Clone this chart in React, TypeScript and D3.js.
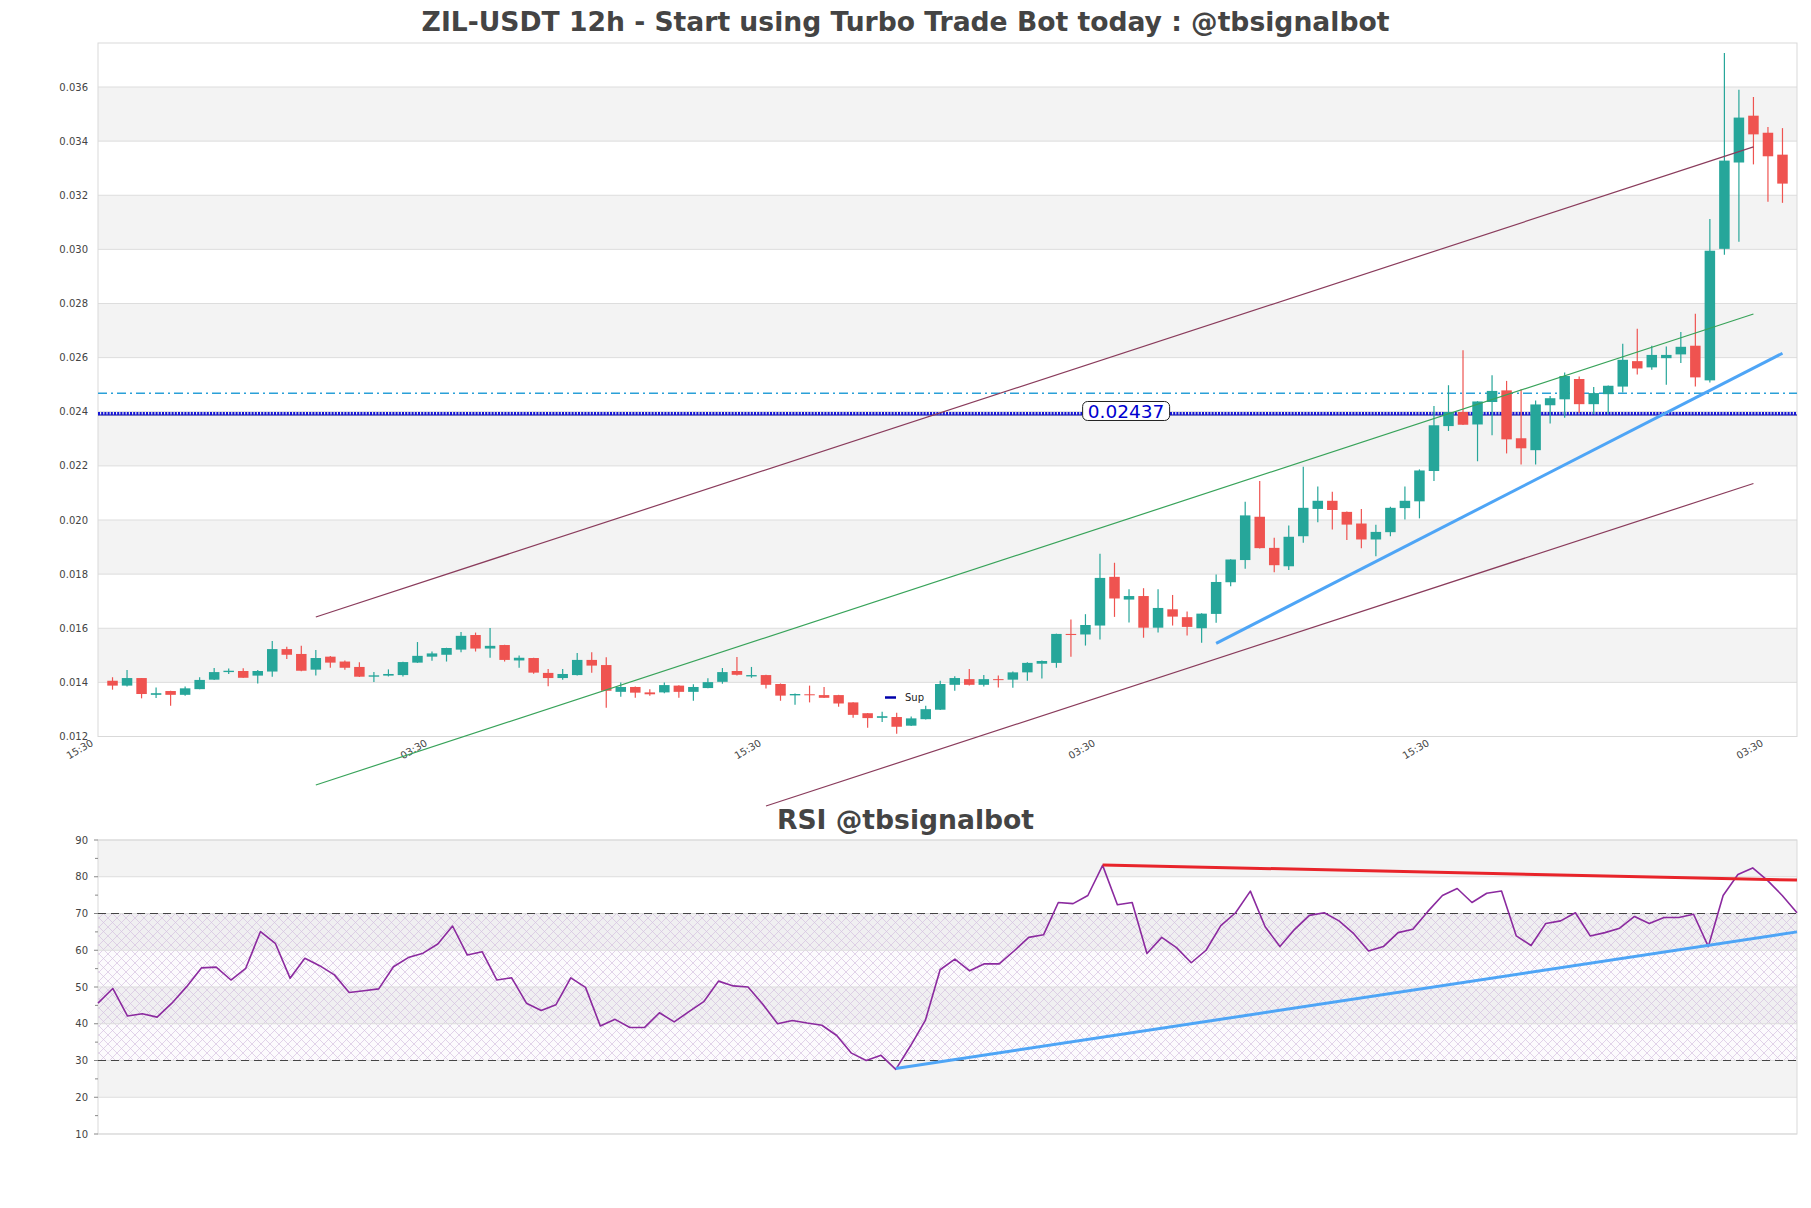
import React, { useEffect } from 'react';
import * as d3 from 'd3';

// ---------------- DATA ----------------
const opens = [0.01406,0.01388,0.01416,0.01354,0.01368,0.01354,0.01375,0.01410,0.01438,0.01442,0.01425,0.01440,0.01523,0.01505,0.01447,0.01495,0.01477,0.01457,0.01421,0.01425,0.01427,0.01473,0.01495,0.01502,0.01521,0.01575,0.01525,0.01538,0.01481,0.01490,0.01435,0.01416,0.01427,0.01483,0.01464,0.01365,0.01383,0.01363,0.01363,0.01388,0.01365,0.01379,0.01402,0.01442,0.01422,0.01427,0.01394,0.01352,0.01356,0.01353,0.01353,0.01326,0.01286,0.01269,0.01272,0.01240,0.01264,0.01299,0.01391,0.01412,0.01391,0.01412,0.01410,0.01437,0.01469,0.01472,0.01579,0.01577,0.01610,0.01790,0.01706,0.01719,0.01602,0.01670,0.01641,0.01600,0.01653,0.01770,0.01852,0.02012,0.01897,0.01829,0.01940,0.02041,0.02071,0.02030,0.01987,0.01928,0.01955,0.02044,0.02069,0.02181,0.02347,0.02399,0.02353,0.02436,0.02479,0.02302,0.02258,0.02424,0.02446,0.02521,0.02428,0.02465,0.02493,0.02587,0.02564,0.02598,0.02612,0.02644,0.02516,0.03002,0.03321,0.03494,0.03431,0.03350];
const highs = [0.01419,0.01446,0.01416,0.01381,0.01369,0.01385,0.01419,0.01453,0.01451,0.01452,0.01446,0.01553,0.01532,0.01535,0.01520,0.01497,0.01481,0.01474,0.01438,0.01448,0.01476,0.01549,0.01514,0.01528,0.01586,0.01584,0.01601,0.01539,0.01499,0.01491,0.01449,0.01449,0.01509,0.01511,0.01493,0.01400,0.01385,0.01375,0.01400,0.01389,0.01393,0.01415,0.01453,0.01494,0.01457,0.01428,0.01396,0.01359,0.01388,0.01383,0.01354,0.01327,0.01287,0.01291,0.01288,0.01274,0.01314,0.01406,0.01423,0.01449,0.01427,0.01425,0.01440,0.01474,0.01481,0.01580,0.01632,0.01652,0.01875,0.01842,0.01744,0.01748,0.01744,0.01723,0.01662,0.01655,0.01799,0.01855,0.02067,0.02144,0.01934,0.01980,0.02197,0.02124,0.02104,0.02031,0.02041,0.01982,0.02049,0.02124,0.02187,0.02421,0.02498,0.02627,0.02439,0.02535,0.02514,0.02483,0.02442,0.02458,0.02545,0.02530,0.02491,0.02497,0.02651,0.02707,0.02644,0.02641,0.02695,0.02762,0.03112,0.03726,0.03590,0.03563,0.03452,0.03448];
const lows = [0.01373,0.01385,0.01341,0.01342,0.01314,0.01351,0.01375,0.01409,0.01431,0.01417,0.01396,0.01421,0.01486,0.01441,0.01425,0.01454,0.01447,0.01420,0.01401,0.01422,0.01422,0.01472,0.01480,0.01477,0.01511,0.01514,0.01491,0.01477,0.01454,0.01432,0.01386,0.01410,0.01425,0.01436,0.01306,0.01347,0.01343,0.01351,0.01360,0.01343,0.01332,0.01378,0.01395,0.01425,0.01417,0.01377,0.01332,0.01317,0.01326,0.01342,0.01310,0.01269,0.01232,0.01254,0.01210,0.01239,0.01263,0.01298,0.01369,0.01388,0.01385,0.01381,0.01380,0.01406,0.01414,0.01454,0.01495,0.01536,0.01558,0.01642,0.01621,0.01565,0.01584,0.01610,0.01573,0.01546,0.01620,0.01755,0.01820,0.01895,0.01807,0.01815,0.01916,0.01992,0.01965,0.01926,0.01896,0.01866,0.01940,0.02002,0.02006,0.02144,0.02329,0.02351,0.02217,0.02313,0.02246,0.02205,0.02205,0.02357,0.02378,0.02395,0.02392,0.02392,0.02471,0.02538,0.02555,0.02500,0.02580,0.02493,0.02508,0.02980,0.03028,0.03314,0.03176,0.03172];
const closes = [0.01388,0.01416,0.01357,0.01360,0.01354,0.01378,0.01409,0.01438,0.01443,0.01417,0.01442,0.01523,0.01502,0.01443,0.01490,0.01473,0.01454,0.01421,0.01426,0.01431,0.01475,0.01498,0.01507,0.01527,0.01572,0.01525,0.01535,0.01483,0.01491,0.01436,0.01416,0.01431,0.01483,0.01462,0.01369,0.01383,0.01362,0.01356,0.01390,0.01365,0.01383,0.01401,0.01438,0.01428,0.01427,0.01391,0.01351,0.01357,0.01353,0.01343,0.01322,0.01280,0.01268,0.01275,0.01236,0.01267,0.01301,0.01394,0.01416,0.01391,0.01412,0.01409,0.01437,0.01472,0.01479,0.01579,0.01575,0.01612,0.01786,0.01710,0.01719,0.01602,0.01675,0.01643,0.01605,0.01654,0.01771,0.01854,0.02017,0.01896,0.01833,0.01938,0.02045,0.02071,0.02037,0.01983,0.01928,0.01956,0.02045,0.02071,0.02183,0.02350,0.02399,0.02352,0.02438,0.02477,0.02298,0.02265,0.02427,0.02450,0.02532,0.02428,0.02469,0.02496,0.02592,0.02560,0.02610,0.02610,0.02640,0.02527,0.02995,0.03328,0.03487,0.03425,0.03344,0.03243];

const rsiValues = [45.6,49.6,42.1,42.7,41.8,45.6,50.1,55.2,55.4,51.9,55.1,65.1,61.9,52.4,57.8,55.8,53.3,48.5,49.0,49.5,55.5,58.0,59.2,61.7,66.6,58.7,59.6,51.9,52.5,45.6,43.6,45.2,52.5,49.9,39.4,41.2,39.0,39.0,43.0,40.5,43.3,46.0,51.6,50.3,50.0,45.3,40.0,40.9,40.2,39.6,36.8,32.0,30.0,31.4,27.6,34.0,40.9,54.7,57.6,54.4,56.3,56.3,59.8,63.5,64.2,73.0,72.7,74.9,83.1,72.4,73.0,59.1,63.5,60.7,56.6,60.0,66.7,70.2,76.1,66.4,61.0,65.7,69.5,70.2,68.0,64.5,59.8,61.0,64.8,65.7,70.5,74.9,76.8,73.0,75.5,76.1,63.9,61.3,67.3,68.0,70.2,63.9,64.8,66.0,69.2,67.3,68.9,68.9,69.8,61.0,74.9,80.6,82.4,79.0,74.9,70.2];

const xTickIndex = [-1, 22, 45, 68, 91, 114];
const xTickLabels = ['15:30', '03:30', '15:30', '03:30', '15:30', '03:30'];
const priceTicks = [0.012, 0.014, 0.016, 0.018, 0.020, 0.022, 0.024, 0.026, 0.028, 0.030, 0.032, 0.034, 0.036];
const rsiTicks = [10, 20, 30, 40, 50, 60, 70, 80, 90];
const rsiMinorTicks = [15, 25, 35, 45, 55, 65, 75, 85];

// trend lines: [index, value]
const channelUpper = [[14, 0.016416], [113, 0.033785]];
const channelMid = [[14, 0.010208], [113, 0.027613]];
const channelLower = [[45, 0.009432], [113, 0.02135]];
const supportTrend = [[76, 0.015444], [115, 0.026161]];
const levelDashed = 0.024683;
const levelSupport = 0.02388;
const levelLabelText = '0.02437';
const levelLabelIndex = 69.8;
const rsiResistance = [[68, 83.2], [115, 79.1]];
const rsiSupport = [[54, 27.8], [115, 65.0]];

const TITLE = 'ZIL-USDT 12h - Start using Turbo Trade Bot today : @tbsignalbot';
const RSI_TITLE = 'RSI @tbsignalbot';

// ---------------- LAYOUT ----------------
const W = 1811, H = 1208;
const M = { left: 98, right: 1797, top: 43, bottom: 736.5 };
const R = { left: 98, right: 1797, top: 840, bottom: 1134 };
const UP = '#26a69a', DOWN = '#ef5350';
const FONT = "'DejaVu Sans', sans-serif";

export default function App() {
  useEffect(() => {
    document.body.style.margin = '0';
    document.body.style.overflow = 'hidden';
  }, []);

  const n = closes.length;
  const x = d3.scaleLinear().domain([-1, n]).range([M.left, M.right]);
  const y = d3.scaleLinear().domain([0.012, 0.036]).range([M.bottom, 87]);
  const xr = d3.scaleLinear().domain([0, n - 1]).range([R.left, R.right]);
  const yr = d3.scaleLinear().domain([10, 90]).range([R.bottom, R.top]);

  const bodyW = 10.5;
  const lineMain = d3.line<number[]>().x(d => x(d[0])).y(d => y(d[1]));
  const lineRsi = d3.line<number[]>().x(d => xr(d[0])).y(d => yr(d[1]));
  const rsiPath = d3.line<number>().x((_, i) => xr(i)).y(d => yr(d))(rsiValues) || '';

  const grayBandsMain: number[][] = [];
  for (let i = 0; i < priceTicks.length - 1; i++) {
    if (i % 2 === 1) grayBandsMain.push([priceTicks[i], priceTicks[i + 1]]);
  }
  const grayBandsRsi: number[][] = [];
  for (let i = 0; i < rsiTicks.length - 1; i++) {
    if (i % 2 === 1) grayBandsRsi.push([rsiTicks[i], rsiTicks[i + 1]]);
  }

  const lx = x(levelLabelIndex);
  const ly = y(levelSupport);

  return (
    <svg width={W} height={H} style={{ position: 'absolute', left: 0, top: 0, background: '#fff' }} fontFamily={FONT}>
      <defs>
        <pattern id="hatch" width="9" height="9" patternUnits="userSpaceOnUse">
          <path d="M0,0 L9,9 M9,0 L0,9" stroke="#d7c4e3" strokeWidth="0.7" fill="none" />
        </pattern>
      </defs>
      <rect x={0} y={0} width={W} height={H} fill="#fff" />

      {/* ---------- main title ---------- */}
      <text x={W / 2} y={31} textAnchor="middle" fontSize={26.6} fontWeight="bold" fill="#444">{TITLE}</text>

      {/* ---------- main plot background ---------- */}
      {grayBandsMain.map((b, i) => (
        <rect key={'gb' + i} x={M.left} y={y(b[1])} width={M.right - M.left} height={y(b[0]) - y(b[1])} fill="#f3f3f3" />
      ))}
      {priceTicks.map((t, i) => (
        <line key={'pg' + i} x1={M.left} x2={M.right} y1={y(t)} y2={y(t)} stroke="#dddddd" strokeWidth={1} />
      ))}
      <rect x={M.left} y={M.top} width={M.right - M.left} height={M.bottom - M.top} fill="none" stroke="#d9d9d9" strokeWidth={1} />
      {priceTicks.map((t, i) => (
        <text key={'pl' + i} x={M.left - 10} y={y(t) + 3.5} textAnchor="end" fontSize={10} fill="#444">{t.toFixed(3)}</text>
      ))}
      {xTickIndex.map((t, i) => (
        <text key={'xl' + i} transform={`translate(${x(t) - 4},${745}) rotate(-30)`} textAnchor="end" fontSize={10} fill="#444">{xTickLabels[i]}</text>
      ))}

      {/* horizontal levels */}
      <line x1={M.left} x2={M.right} y1={y(levelDashed)} y2={y(levelDashed)} stroke="#2aa0d8" strokeWidth={1.3} strokeDasharray="9,4,2,4" />
      <line x1={M.left} x2={M.right} y1={ly} y2={ly} stroke="#00008b" strokeWidth={1.2} />
      <line x1={M.left} x2={M.right} y1={ly - 1.5} y2={ly - 1.5} stroke="#1515d8" strokeWidth={3} strokeDasharray="2,1.2" />

      {/* candles */}
      {closes.map((c, i) => {
        const o = opens[i];
        const col = c >= o ? UP : DOWN;
        const top = y(Math.max(o, c));
        const h = Math.max(1, Math.abs(y(o) - y(c)));
        return (
          <g key={'c' + i}>
            <line x1={x(i)} x2={x(i)} y1={y(highs[i])} y2={y(lows[i])} stroke={col} strokeWidth={1.2} />
            <rect x={x(i) - bodyW / 2} y={top} width={bodyW} height={h} fill={col} />
          </g>
        );
      })}

      {/* channel lines */}
      <path d={lineMain(channelUpper) || ''} stroke="#8a3c5c" strokeWidth={1.2} fill="none" />
      <path d={lineMain(channelLower) || ''} stroke="#8a3c5c" strokeWidth={1.2} fill="none" />
      <path d={lineMain(channelMid) || ''} stroke="#38a35a" strokeWidth={1.2} fill="none" />
      <path d={lineMain(supportTrend) || ''} stroke="#4ea5f6" strokeWidth={3} fill="none" />

      {/* level label */}
      <rect x={lx - 43.5} y={ly - 13.5} width={87} height={19} rx={5} fill="#fff" stroke="#222" strokeWidth={1} />
      <text x={lx} y={ly + 3} textAnchor="middle" fontSize={18.5} fill="#0000d0">{levelLabelText}</text>

      {/* legend */}
      <line x1={885} x2={896} y1={697.5} y2={697.5} stroke="#0000aa" strokeWidth={2.5} />
      <text x={905} y={701} fontSize={10} fill="#222">Sup</text>

      {/* ---------- RSI ---------- */}
      <text x={W / 2} y={829} textAnchor="middle" fontSize={26.6} fontWeight="bold" fill="#444">{RSI_TITLE}</text>
      {grayBandsRsi.map((b, i) => (
        <rect key={'rb' + i} x={R.left} y={yr(b[1])} width={R.right - R.left} height={yr(b[0]) - yr(b[1])} fill="#f3f3f3" />
      ))}
      <rect x={R.left} y={yr(70)} width={R.right - R.left} height={yr(30) - yr(70)} fill="url(#hatch)" />
      <rect x={R.left} y={yr(70)} width={R.right - R.left} height={yr(30) - yr(70)} fill="#b48fd0" opacity={0.04} />
      {rsiTicks.map((t, i) => (
        <line key={'rg' + i} x1={R.left} x2={R.right} y1={yr(t)} y2={yr(t)} stroke="#dddddd" strokeWidth={1} />
      ))}
      <rect x={R.left} y={R.top} width={R.right - R.left} height={R.bottom - R.top} fill="none" stroke="#d9d9d9" strokeWidth={1} />
      {rsiTicks.map((t, i) => (
        <g key={'rt' + i}>
          <line x1={R.left - 4} x2={R.left} y1={yr(t)} y2={yr(t)} stroke="#888" strokeWidth={1} />
          <text x={R.left - 10} y={yr(t) + 3.5} textAnchor="end" fontSize={10} fill="#444">{t}</text>
        </g>
      ))}
      {rsiMinorTicks.map((t, i) => (
        <line key={'rm' + i} x1={R.left - 3} x2={R.left} y1={yr(t)} y2={yr(t)} stroke="#888" strokeWidth={1} />
      ))}
      <line x1={R.left} x2={R.right} y1={yr(70)} y2={yr(70)} stroke="#444" strokeWidth={1.2} strokeDasharray="8,5" />
      <line x1={R.left} x2={R.right} y1={yr(30)} y2={yr(30)} stroke="#444" strokeWidth={1.2} strokeDasharray="8,5" />
      <path d={rsiPath} stroke="#8b2a9f" strokeWidth={1.6} fill="none" strokeLinejoin="round" />
      <path d={lineRsi(rsiResistance) || ''} stroke="#e8242a" strokeWidth={3} fill="none" />
      <path d={lineRsi(rsiSupport) || ''} stroke="#4ea5f6" strokeWidth={3} fill="none" />
    </svg>
  );
}
